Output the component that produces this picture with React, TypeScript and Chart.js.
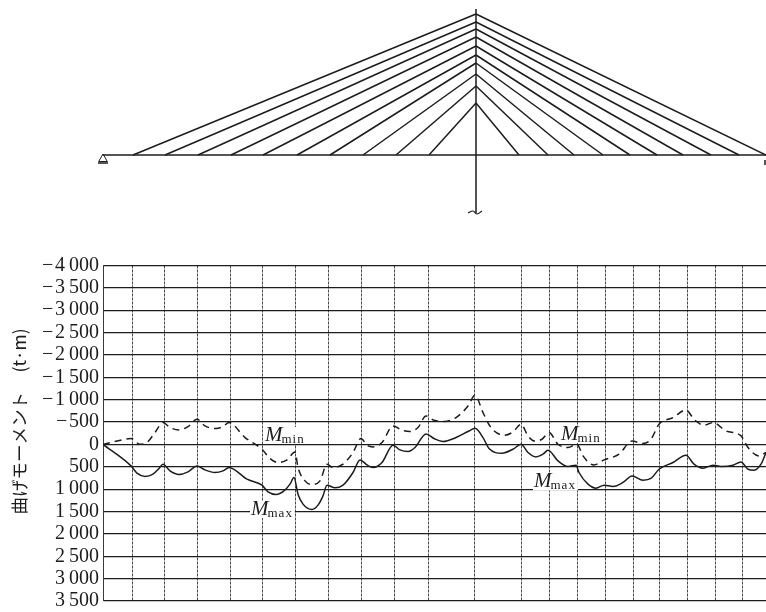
import React, { useEffect, useRef } from "react";
import { Chart, registerables } from "chart.js";

Chart.register(...registerables);

// Panel stations under the moment diagram (grid verticals)
const gridStations = [0, 29, 61, 94, 127, 159, 192, 225, 258, 291, 325, 371, 418, 446, 474, 502, 530, 556, 584, 612, 639, 663];

// Bending moment envelopes: [station, moment]
const maxStations = [0, 28, 34, 42, 50, 56, 60, 67, 76, 85, 94, 102, 112, 120, 126, 144, 159, 165, 173, 181, 187, 191, 195, 200, 209, 215, 220, 224, 232, 240, 250, 257, 264, 270, 279, 290, 297, 305, 312, 323, 331, 340, 353, 366, 372, 380, 386, 399, 410, 418, 425, 433, 440, 445, 455, 465, 473, 476, 485, 493, 501, 510, 520, 529, 540, 548, 556, 570, 583, 591, 600, 610, 618, 630, 638, 645, 651, 658, 663];
const maxValues = [0, 480, 643, 716, 665, 538, 442, 591, 672, 614, 480, 569, 627, 591, 516, 777, 911, 1060, 1118, 1038, 888, 739, 1112, 1335, 1453, 1357, 1150, 911, 971, 911, 627, 346, 458, 516, 404, 18, 123, 158, 69, -235, -132, -65, -154, -301, -362, -154, 92, 196, 107, -4, 181, 279, 219, 129, 368, 493, 464, 627, 888, 978, 911, 940, 850, 703, 799, 761, 554, 404, 241, 442, 531, 464, 493, 464, 391, 554, 576, 442, 181];
const minStations = [0, 14, 28, 37, 44, 52, 60, 67, 76, 85, 94, 102, 113, 120, 126, 142, 159, 167, 175, 184, 192, 195, 202, 209, 217, 224, 230, 240, 250, 258, 264, 270, 279, 290, 299, 307, 315, 323, 331, 341, 353, 365, 372, 380, 388, 401, 410, 418, 425, 431, 439, 446, 455, 465, 474, 480, 491, 501, 516, 529, 540, 548, 556, 570, 583, 591, 601, 610, 623, 638, 645, 656, 663];
const minValues = [0, -78, -132, -4, -42, -266, -489, -377, -324, -400, -562, -413, -355, -400, -489, -154, 107, 315, 404, 346, 167, 516, 815, 895, 815, 442, 516, 442, 181, -132, 18, 56, -42, -413, -317, -288, -377, -636, -540, -511, -600, -859, -1098, -712, -377, -205, -279, -451, -190, -78, -116, -266, -4, 69, -4, 257, 458, 346, 219, -78, -20, -116, -451, -600, -770, -562, -429, -489, -301, -190, 69, 257, 181];

// Annotations on the diagram
const noteStations = [162, 148, 458, 431];
const noteValues = [-78, 1574, -100, 962];
const noteSubs = ["min", "max", "min", "max"];
const noteMain = "M";

// Bridge elevation
const stayAnchorsLeft = [30, 62, 95, 128, 160, 194, 227, 260, 293, 326];
const stayAnchorsRight = [663, 636, 608, 580, 554, 527, 500, 471, 445, 416];
const towerAttachHeights = [141, 133, 126, 118, 109, 100, 92, 81, 69, 52];
const towerStation = 373;
const towerTop = 146;
const towerBottom = -58;
const deckEnd = 663;
const wiggleStations = [365, 370, 374, 379];
const wiggleHeights = [-58, -56, -59, -56];

const yTitle = "\u00a0\u00a0\u00a0\u00a0\u00a0\u00a0曲げモーメント\u00a0\u00a0\u00a0\u00a0\u00a0(t·m)";
const INK = "#1c1c1c";
const SERIF = "'Liberation Serif', serif";

function formatMoment(v: number): string {
  const a = Math.abs(v);
  const body = a >= 1000 ? `${Math.floor(a / 1000)}\u2009${String(a % 1000).padStart(3, "0")}` : String(a);
  return v < 0 ? `\u2212\u200a${body}` : body;
}

const notesPlugin = {
  id: "notes",
  beforeDatasetsDraw(chart: any) {
    const { ctx, scales } = chart;
    ctx.save();
    noteStations.forEach((s, i) => {
      const x = scales.x.getPixelForValue(s);
      const y = scales.y.getPixelForValue(noteValues[i]);
      ctx.font = `italic 21px ${SERIF}`;
      const mw = ctx.measureText(noteMain).width;
      ctx.font = `13px ${SERIF}`;
      ctx.letterSpacing = "1px";
      const sw = ctx.measureText(noteSubs[i]).width;
      ctx.fillStyle = "#fff";
      ctx.fillRect(x - 1, y - 14, mw + sw + 2, 17);
      ctx.fillStyle = INK;
      ctx.fillText(noteSubs[i], x + mw - 1, y + 2);
      ctx.letterSpacing = "0px";
      ctx.font = `italic 21px ${SERIF}`;
      ctx.fillText(noteMain, x, y);
    });
    ctx.restore();
  },
};

function pairs(xs: number[], ys: number[]) {
  return xs.map((x, i) => ({ x, y: ys[i] }));
}

export default function App() {
  const topRef = useRef<HTMLCanvasElement>(null);
  const bottomRef = useRef<HTMLCanvasElement>(null);

  useEffect(() => {
    const thin = { type: "line" as const, borderColor: INK, borderWidth: 1.5, pointRadius: 0, clip: false as any };
    const stays = [...stayAnchorsLeft, ...stayAnchorsRight].map((a, i) => ({
      ...thin,
      label: `stay ${i + 1}`,
      data: [
        { x: a, y: 0 },
        { x: towerStation, y: towerAttachHeights[i % 10] },
      ],
    }));
    const bridge = new Chart(topRef.current!, {
      type: "line",
      data: {
        datasets: [
          { ...thin, label: "deck", data: [{ x: 0, y: 0 }, { x: deckEnd, y: 0 }] },
          { ...thin, label: "tower", data: [{ x: towerStation, y: towerTop }, { x: towerStation, y: towerBottom }] },
          ...stays,
          { ...thin, label: "base", tension: 0.4, borderWidth: 1.2, data: pairs(wiggleStations, wiggleHeights) },
          { ...thin, label: "support", data: [{ x: -5, y: -8 }, { x: 5, y: -8 }] },
          { ...thin, label: "end", data: [{ x: deckEnd - 1, y: -5 }, { x: deckEnd - 1, y: -10 }] },
          {
            type: "scatter" as const,
            label: "hinge",
            clip: false as any,
            data: [{ x: 0, y: -4 }],
            pointStyle: "triangle",
            pointRadius: 5,
            pointBackgroundColor: "#fff",
            pointBorderColor: INK,
            pointBorderWidth: 1,
          },
        ] as any,
      },
      options: {
        responsive: false,
        animation: false,
        layout: { autoPadding: false, padding: { left: 103, right: 0, top: 0, bottom: 0 } },
        plugins: { legend: { display: false }, tooltip: { enabled: false } },
        scales: {
          x: { type: "linear", min: 0, max: deckEnd, display: false },
          y: { type: "linear", min: -70, max: 155, display: false },
        },
      },
    });

    const moment = new Chart(bottomRef.current!, {
      type: "line",
      data: {
        datasets: [
          {
            label: "Mmax",
            data: pairs(maxStations, maxValues),
            borderColor: INK,
            borderWidth: 1.5,
            pointRadius: 0,
            cubicInterpolationMode: "monotone",
          },
          {
            label: "Mmin",
            data: pairs(minStations, minValues),
            borderColor: INK,
            borderWidth: 1.5,
            borderDash: [7, 5],
            pointRadius: 0,
            cubicInterpolationMode: "monotone",
          },
        ],
      },
      plugins: [notesPlugin],
      options: {
        responsive: false,
        animation: false,
        layout: { autoPadding: false, padding: { left: 0, right: 0, top: 40.5, bottom: 11 } },
        plugins: { legend: { display: false }, tooltip: { enabled: false } },
        scales: {
          x: {
            type: "linear",
            min: 0,
            max: 663,
            afterBuildTicks: (s: any) => {
              s.ticks = gridStations.map((value) => ({ value }));
            },
            ticks: { display: false },
            grid: { color: "#4a4a4a", lineWidth: 1, drawTicks: false, tickBorderDash: [] },
            border: { display: false, dash: [3, 1] },
            afterFit: (s: any) => {
              s.height = 0;
              s.paddingLeft = 0;
              s.paddingRight = 0;
            },
          },
          y: {
            type: "linear",
            reverse: true,
            min: -4000,
            max: 3500,
            ticks: {
              stepSize: 500,
              autoSkip: false,
              padding: 4,
              color: INK,
              font: { family: SERIF, size: 20 },
              callback: (v: any) => formatMoment(Number(v)),
            },
            grid: { color: "#1c1c1c", lineWidth: 1.2, drawTicks: false },
            border: { display: true, color: "#3a3a3a", width: 1 },
            title: {
              display: true,
              text: yTitle,
              color: INK,
              font: { family: "'Noto Sans CJK JP', sans-serif", size: 17.5 },
              padding: { top: 9, bottom: 0 },
            },
            afterFit: (s: any) => {
              s.width = 103;
              s.paddingTop = 0;
              s.paddingBottom = 0;
            },
          },
        },
      },
    });

    return () => {
      bridge.destroy();
      moment.destroy();
    };
  }, []);

  return (
    <div style={{ position: "absolute", left: 0, top: 0, width: 766, height: 612, background: "#fff", overflow: "hidden" }}>
      <canvas ref={topRef} width={766} height={225} style={{ display: "block" }} />
      <canvas ref={bottomRef} width={766} height={387} style={{ display: "block" }} />
    </div>
  );
}
